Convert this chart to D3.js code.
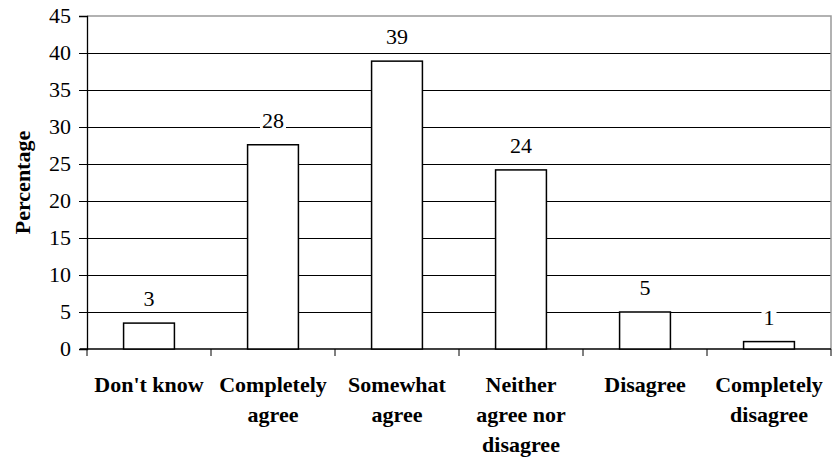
<!DOCTYPE html>
<html><head><meta charset="utf-8">
<script src="https://cdn.jsdelivr.net/npm/d3@7"></script>
</head><body style="margin:0">
<script>
const categories = [["Don't know"],["Completely","agree"],["Somewhat","agree"],["Neither","agree nor","disagree"],["Disagree"],["Completely","disagree"]];
const values = [3.5, 27.6, 38.9, 24.2, 5.0, 1.0];
const valueLabels = ["3","28","39","24","5","1"];
const yTicks = [0,5,10,15,20,25,30,35,40,45];
const yTitle = "Percentage";

const W = 833, H = 464;
const m = {l:87, r:2, t:16, b:115};
const FONT = "Liberation Serif";
const svg = d3.select("body").append("svg").attr("width",W).attr("height",H).style("display","block")
  .attr("font-family",FONT);
const x = d3.scaleBand().domain(d3.range(categories.length)).range([m.l, W-m.r]).paddingInner(0.59).paddingOuter(0.295);
const xo = d3.scaleBand().domain(d3.range(categories.length)).range([m.l, W-m.r]);
const y = d3.scaleLinear().domain([0,45]).range([H-m.b, m.t]);

// gridlines
svg.append("g").selectAll("line").data(yTicks.filter(d=>d>0 && d<45)).join("line")
  .attr("x1",m.l).attr("x2",W-m.r).attr("y1",d=>y(d)).attr("y2",d=>y(d))
  .attr("stroke","#000").attr("stroke-width",1).attr("shape-rendering","crispEdges");
// top/right border
svg.append("path").attr("d",`M${m.l},${y(45)}H${W-m.r}V${y(0)}`).attr("fill","none")
  .attr("stroke","#999").attr("stroke-width",1.5);

// y axis (ticks/domain via d3 axis)
const ya = svg.append("g").attr("transform",`translate(${m.l},0)`)
  .call(d3.axisLeft(y).tickValues(yTicks).tickSize(8).tickFormat(""));
ya.attr("font-family",null).attr("font-size",null);
ya.select(".domain").attr("stroke","#000").attr("stroke-width",1.3);
ya.selectAll(".tick line").attr("stroke","#000");
// tick labels
svg.append("g").selectAll("text").data(yTicks).join("text")
  .attr("x",m.l-16).attr("y",d=>y(d)).attr("dy","0.34em").attr("text-anchor","end")
  .attr("font-family",FONT).attr("font-size",22).attr("fill","#000").text(d=>d);

// x axis
const xa = svg.append("g").attr("transform",`translate(0,${y(0)})`);
xa.append("line").attr("x1",m.l-7).attr("x2",W-m.r).attr("stroke","#000").attr("stroke-width",1.3);
xa.selectAll("line.t").data(d3.range(categories.length+1)).join("line").attr("class","t")
  .attr("x1",i=>i<categories.length?xo(i):xo(i-1)+xo.bandwidth()).attr("x2",i=>i<categories.length?xo(i):xo(i-1)+xo.bandwidth())
  .attr("y1",0).attr("y2",7).attr("stroke","#000");

// bars
svg.append("g").selectAll("rect").data(values).join("rect")
  .attr("x",(d,i)=>x(i)).attr("width",x.bandwidth())
  .attr("y",d=>y(d)).attr("height",d=>y(0)-y(d))
  .attr("fill","#fff").attr("stroke","#000").attr("stroke-width",1.5);

// value label backgrounds + text
const lw = d=>d.length*11+4;
svg.append("g").selectAll("rect").data(values).join("rect")
  .attr("x",(d,i)=>x(i)+x.bandwidth()/2-lw(valueLabels[i])/2).attr("y",d=>y(d)-35)
  .attr("width",(d,i)=>lw(valueLabels[i])).attr("height",20).attr("fill","#fff");
svg.append("g").selectAll("text").data(values).join("text")
  .attr("x",(d,i)=>x(i)+x.bandwidth()/2).attr("y",d=>y(d)-17)
  .attr("text-anchor","middle").attr("font-family",FONT).attr("font-size",22).attr("fill","#000")
  .text((d,i)=>valueLabels[i]);

// category labels
categories.forEach((lines,i)=>{
  svg.append("g").selectAll("text").data(lines).join("text")
    .attr("x",xo(i)+xo.bandwidth()/2).attr("y",(d,j)=>y(0)+43+j*30)
    .attr("text-anchor","middle").attr("font-family",FONT).attr("font-weight","bold").attr("font-size",22)
    .attr("fill","#000").text(d=>d);
});

// y title
svg.append("text").attr("transform",`translate(30,${(y(0)+y(45))/2}) rotate(-90)`)
  .attr("text-anchor","middle").attr("font-family",FONT).attr("font-weight","bold").attr("font-size",22).attr("fill","#000").text(yTitle);
</script>
</body></html>
